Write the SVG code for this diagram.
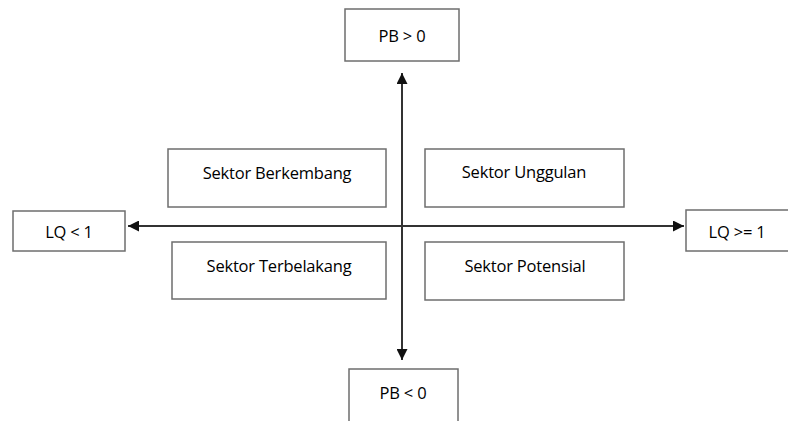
<svg xmlns="http://www.w3.org/2000/svg" width="788" height="421" viewBox="0 0 788 421">
<style>
.box{fill:#fff;stroke:#6e6e6e;stroke-width:1.5}
.t{font-family:"Open Sans","Noto Sans",sans-serif;font-size:16.5px;font-weight:500;fill:#000;text-anchor:middle;dominant-baseline:central;letter-spacing:-0.2px}
.ax{stroke:#333;stroke-width:2;fill:none}
</style>
<defs>
<marker id="ah" viewBox="0 0 10 10" refX="10" refY="5" markerWidth="5.5" markerHeight="5.5" orient="auto-start-reverse" markerUnits="strokeWidth">
<path d="M0,0 L10,5 L0,10 z" fill="#111"/>
</marker>
</defs>
<rect width="788" height="421" fill="#fff"/>
<g id="connectors">
<line class="ax" x1="402" y1="73" x2="402" y2="360" marker-start="url(#ah)" marker-end="url(#ah)"/>
<line class="ax" x1="128" y1="226" x2="684" y2="226" marker-start="url(#ah)" marker-end="url(#ah)"/>
</g>
<g id="pb-pos"><rect class="box" x="345" y="9" width="114" height="52"/><text class="t" x="402" y="35">PB &gt; 0</text></g>
<g id="pb-neg"><rect class="box" x="349" y="369" width="109" height="60"/><text class="t" x="403" y="392">PB &lt; 0</text></g>
<g id="lq-lt"><rect class="box" x="13" y="211" width="112" height="40"/><text class="t" x="69" y="231">LQ &lt; 1</text></g>
<g id="lq-ge"><rect class="box" x="686" y="210" width="110" height="41"/><text class="t" x="737" y="231">LQ &gt;= 1</text></g>
<g id="berkembang"><rect class="box" x="168" y="149" width="218" height="58"/><text class="t" x="277" y="172">Sektor Berkembang</text></g>
<g id="unggulan"><rect class="box" x="425" y="149" width="199" height="58"/><text class="t" x="524" y="171">Sektor Unggulan</text></g>
<g id="terbelakang"><rect class="box" x="172" y="242" width="214" height="57"/><text class="t" x="279" y="265">Sektor Terbelakang</text></g>
<g id="potensial"><rect class="box" x="425" y="242" width="199" height="58"/><text class="t" x="525" y="265">Sektor Potensial</text></g>
</svg>
